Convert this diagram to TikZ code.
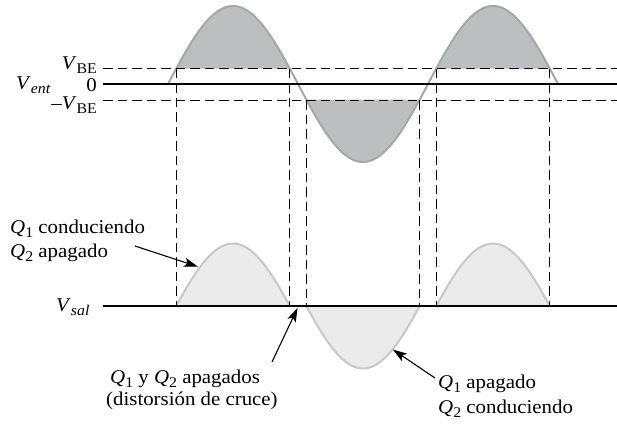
\documentclass[tikz,border=0pt]{standalone}
\usepackage{fontspec}
\setmainfont{Liberation Serif}[FakeStretch=1.07]
\usetikzlibrary{arrows.meta}
\definecolor{infill}{HTML}{BDBEC0}
\definecolor{instroke}{HTML}{A6A7A9}
\definecolor{outfill}{HTML}{EBEBEB}
\definecolor{outstroke}{HTML}{C8C8C8}
\newcommand{\ssub}[1]{\raisebox{-0.22em}{\scalebox{0.76}{#1}}}
\newcommand{\Vv}{\textit{V}}
\newcommand{\Qq}{\textit{Q}}
\begin{document}
\begin{tikzpicture}[x=1pt,y=-1pt,
  lbl/.style={inner sep=0pt, font=\fontsize{19.5}{23}\selectfont},
  dsh/.style={black, line width=0.9pt, dash pattern=on 9.5pt off 5pt},
  axis/.style={black, line width=1.1pt},
  ptr/.style={black, line width=1.1pt, -{Stealth[length=14pt,width=9pt,inset=3pt]}, shorten >=1pt},
  inw/.style={instroke, line width=2pt},
  outw/.style={outstroke, line width=2pt}]
\useasboundingbox (0,0) rectangle (617,424);
% input fills
\foreach \a/\b in {176.28/289.72, 306.28/419.72, 436.28/549.72}
  \fill[infill] plot[domain=\a:\b, samples=80] (\x,{84-78*sin((\x-168)*1.384615)}) -- cycle;
% output fills and strokes
\foreach \a/\b in {176.28/289.72, 436.28/549.72}{
  \fill[outfill] plot[domain=\a:\b, samples=80] (\x,{321.5-78*sin((\x-168)*1.384615)}) -- cycle;
  \draw[outw] plot[domain=\a:\b, samples=80] (\x,{321.5-78*sin((\x-168)*1.384615)});
}
\fill[outfill] plot[domain=306.28:419.72, samples=80] (\x,{290.5-78*sin((\x-168)*1.384615)}) -- cycle;
\draw[outw] plot[domain=306.28:419.72, samples=80] (\x,{290.5-78*sin((\x-168)*1.384615)});
% input curve
\draw[inw] plot[domain=168:558, samples=300] (\x,{84-78*sin((\x-168)*1.384615)});
% level lines
\coordinate (vbeL) at (103,68.5); \coordinate (vbeR) at (617,68.5);
\coordinate (zL) at (103,84); \coordinate (zR) at (617,84);
\coordinate (nvbeL) at (103,100); \coordinate (nvbeR) at (617,100);
\coordinate (oL) at (103,306); \coordinate (oR) at (617,306);
\draw[dsh] (vbeL) -- (vbeR);
\draw[dsh] (nvbeL) -- (nvbeR);
\draw[axis] (zL) -- (zR);
\draw[axis] (oL) -- (oR);
% vertical dashed lines
\foreach \xx/\yy in {176.28/68.5, 289.72/68.5, 306.28/100, 419.72/100, 436.28/68.5, 549.72/68.5}
  \draw[dsh] (\xx,\yy) -- (\xx,306);
% labels
\node[lbl, anchor=base east] (lvbe) at (97,69) {\Vv\ssub{BE}};
\node[lbl, anchor=base east] (lzero) at (97,91) {0};
\node[lbl, anchor=base east] (lnvbe) at (97,109) {\textendash\Vv\ssub{BE}};
\node[lbl, anchor=base west] (lvent) at (16,89) {\Vv\ssub{\textit{ent}}};
\node[lbl, anchor=base west] (lvsal) at (56,311) {\Vv\ssub{\textit{sal}}};
\node[lbl, anchor=base west] (t1a) at (10,233) {\Qq\ssub{1} conduciendo};
\node[lbl, anchor=base west] (t1b) at (10,257) {\Qq\ssub{2} apagado};
\node[lbl, anchor=base west] (t2a) at (110,383) {\Qq\ssub{1} y \Qq\ssub{2} apagados};
\node[lbl, anchor=base west] (t2b) at (106,405) {(distorsión de cruce)};
\node[lbl, anchor=base west] (t3a) at (438,388) {\Qq\ssub{1} apagado};
\node[lbl, anchor=base west] (t3b) at (438,413) {\Qq\ssub{2} conduciendo};
% arrows
\coordinate (a1s) at (135,246); \coordinate (a1e) at (199,267);
\coordinate (a2s) at (272,362); \coordinate (a2e) at (298,307);
\coordinate (a3s) at (435,378); \coordinate (a3e) at (392,349);
\draw[ptr] (a1s) -- (a1e);
\draw[ptr] (a2s) -- (a2e);
\draw[ptr] (a3s) -- (a3e);
\end{tikzpicture}
\end{document}
